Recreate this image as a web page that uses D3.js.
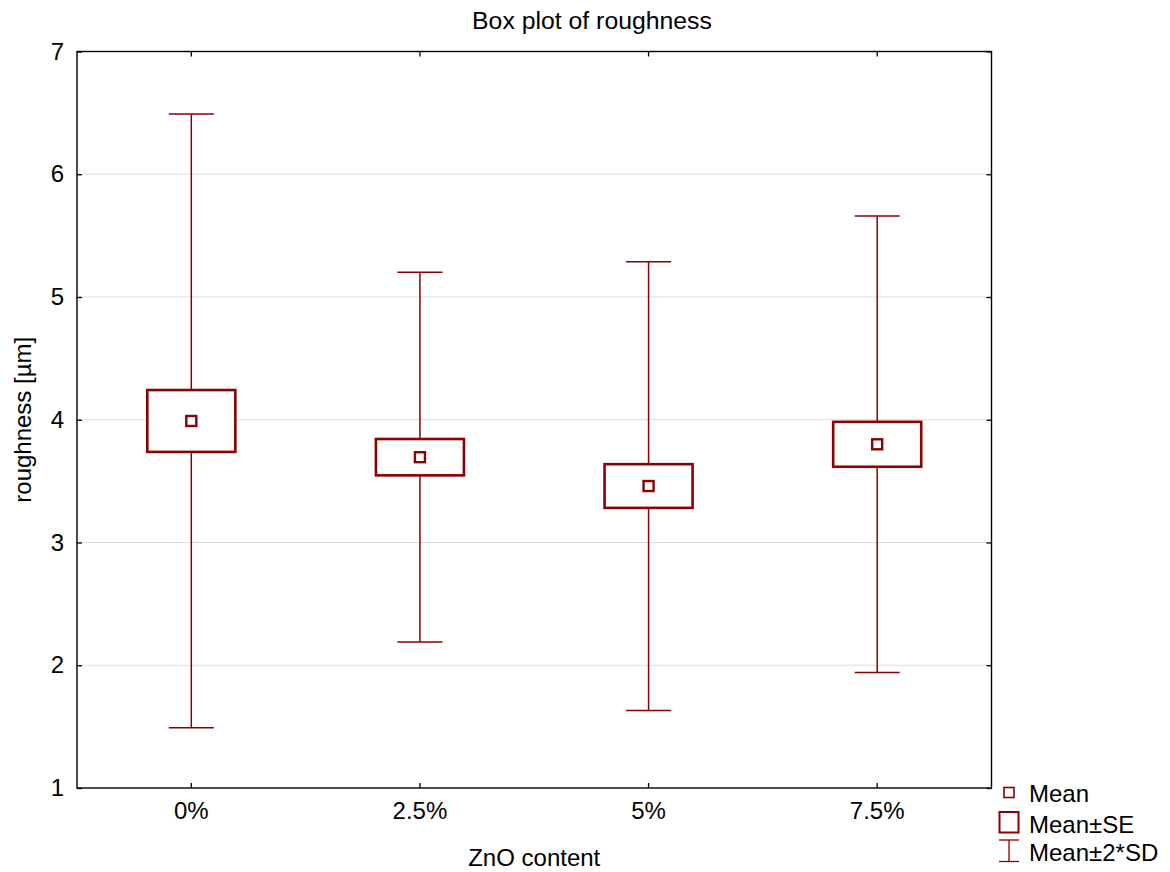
<!DOCTYPE html>
<html>
<head>
<meta charset="utf-8">
<script src="https://cdn.jsdelivr.net/npm/d3@7"></script>
<style>
  html, body { margin: 0; padding: 0; background: #fff; }
  svg { display: block; font-family: "Liberation Sans", Arial, sans-serif; }
</style>
</head>
<body>
<svg id="chart" width="1170" height="872"></svg>
<script>
// ZnO content groups and summary statistics of roughness
const categories = ["0%", "2.5%", "5%", "7.5%"];
const means = [3.99, 3.695, 3.46, 3.80];
const se = [0.252, 0.148, 0.178, 0.183];
const sd = [1.25, 0.753, 0.914, 0.930];
const yTicks = [1, 2, 3, 4, 5, 6, 7];
const legendItems = ["Mean", "Mean\u00B1SE", "Mean\u00B12*SD"];

const rows = categories.map((c, i) => ({ cat: c, mean: means[i], se: se[i], sd: sd[i] }));

const svg = d3.select("#chart");
const plotL = 77, plotR = 991.5, plotT = 51.5, plotB = 788;
const red = "#8B0000";
const fontSize = 24;

const x = d3.scaleBand().domain(categories).range([plotL, plotR]).padding(0);
const y = d3.scaleLinear().domain([1, 7]).range([plotB, plotT]);
const bw = x.bandwidth();
const boxW = bw * 0.385;
const capW = bw * 0.197;

// horizontal grid lines
svg.append("g")
  .selectAll("line")
  .data(yTicks.filter(t => t > 1 && t < 7))
  .join("line")
  .attr("x1", plotL).attr("x2", plotR)
  .attr("y1", d => y(d)).attr("y2", d => y(d))
  .attr("stroke", "#dddddd").attr("stroke-width", 1.2);

// axes with inward ticks
const yAxisL = svg.append("g").attr("transform", `translate(${plotL},0)`)
  .call(d3.axisLeft(y).tickValues(yTicks).tickFormat(d3.format("d")).tickSize(-5).tickPadding(13));
const yAxisR = svg.append("g").attr("transform", `translate(${plotR},0)`)
  .call(d3.axisRight(y).tickValues(yTicks).tickFormat("").tickSize(-5));
const xAxisB = svg.append("g").attr("transform", `translate(0,${plotB})`)
  .call(d3.axisBottom(x).tickSize(-5).tickPadding(14));
const xAxisT = svg.append("g").attr("transform", `translate(0,${plotT})`)
  .call(d3.axisTop(x).tickFormat("").tickSize(-5));

[yAxisL, yAxisR, xAxisB, xAxisT].forEach(g => {
  g.select(".domain").remove();
  g.selectAll(".tick line").attr("stroke", "#000").attr("stroke-width", 1.3);
  g.selectAll("text").attr("font-size", fontSize).attr("fill", "#000")
    .attr("font-family", "'Liberation Sans', Arial, sans-serif");
});
xAxisB.selectAll("text").attr("dy", "0.71em");

// whiskers: mean ± 2*SD
const groups = svg.append("g").selectAll("g").data(rows).join("g")
  .attr("transform", d => `translate(${x(d.cat) + bw / 2},0)`);

groups.append("line")
  .attr("x1", 0).attr("x2", 0)
  .attr("y1", d => y(d.mean + 2 * d.sd)).attr("y2", d => y(d.mean - 2 * d.sd))
  .attr("stroke", red).attr("stroke-width", 1.5);
groups.append("line")
  .attr("x1", -capW / 2).attr("x2", capW / 2)
  .attr("y1", d => y(d.mean + 2 * d.sd)).attr("y2", d => y(d.mean + 2 * d.sd))
  .attr("stroke", red).attr("stroke-width", 1.5);
groups.append("line")
  .attr("x1", -capW / 2).attr("x2", capW / 2)
  .attr("y1", d => y(d.mean - 2 * d.sd)).attr("y2", d => y(d.mean - 2 * d.sd))
  .attr("stroke", red).attr("stroke-width", 1.5);

// boxes: mean ± SE
groups.append("rect")
  .attr("x", -boxW / 2).attr("width", boxW)
  .attr("y", d => y(d.mean + d.se))
  .attr("height", d => y(d.mean - d.se) - y(d.mean + d.se))
  .attr("fill", "#fff").attr("stroke", red).attr("stroke-width", 2.6);

// mean markers
const mk = 10;
groups.append("rect")
  .attr("x", -mk / 2).attr("width", mk)
  .attr("y", d => y(d.mean) - mk / 2).attr("height", mk)
  .attr("fill", "#fff").attr("stroke", red).attr("stroke-width", 2.4);

// plot frame
svg.append("rect")
  .attr("x", plotL).attr("y", plotT)
  .attr("width", plotR - plotL).attr("height", plotB - plotT)
  .attr("fill", "none").attr("stroke", "#000").attr("stroke-width", 1.4);

// title (centred on the page) and axis labels
svg.append("text")
  .attr("x", 592).attr("y", 29)
  .attr("text-anchor", "middle").attr("font-size", 24.8)
  .text("Box plot of roughness");
svg.append("text")
  .attr("x", (plotL + plotR) / 2).attr("y", 866)
  .attr("text-anchor", "middle").attr("font-size", fontSize)
  .text("ZnO content");
svg.append("text")
  .attr("transform", `translate(31,${(plotT + plotB) / 2}) rotate(-90)`)
  .attr("text-anchor", "middle").attr("font-size", fontSize)
  .text("roughness [\u00B5m]");

// legend
const lg = svg.append("g");
const lx = 1009;
lg.append("rect").attr("x", lx - 5).attr("y", 787.5).attr("width", 10).attr("height", 10)
  .attr("fill", "#fff").attr("stroke", red).attr("stroke-width", 1.6);
lg.append("rect").attr("x", lx - 9.5).attr("y", 812).attr("width", 19).attr("height", 20.5)
  .attr("fill", "#fff").attr("stroke", red).attr("stroke-width", 2);
lg.append("line").attr("x1", lx).attr("x2", lx).attr("y1", 840).attr("y2", 861.5)
  .attr("stroke", red).attr("stroke-width", 1.3);
lg.append("line").attr("x1", lx - 10).attr("x2", lx + 10).attr("y1", 840).attr("y2", 840)
  .attr("stroke", red).attr("stroke-width", 1.3);
lg.append("line").attr("x1", lx - 10).attr("x2", lx + 10).attr("y1", 861.5).attr("y2", 861.5)
  .attr("stroke", red).attr("stroke-width", 1.3);
lg.selectAll("text").data(legendItems).join("text")
  .attr("x", 1029).attr("y", (d, i) => [801.5, 832.5, 860.5][i])
  .attr("font-size", fontSize)
  .text(d => d);
</script>
</body>
</html>
